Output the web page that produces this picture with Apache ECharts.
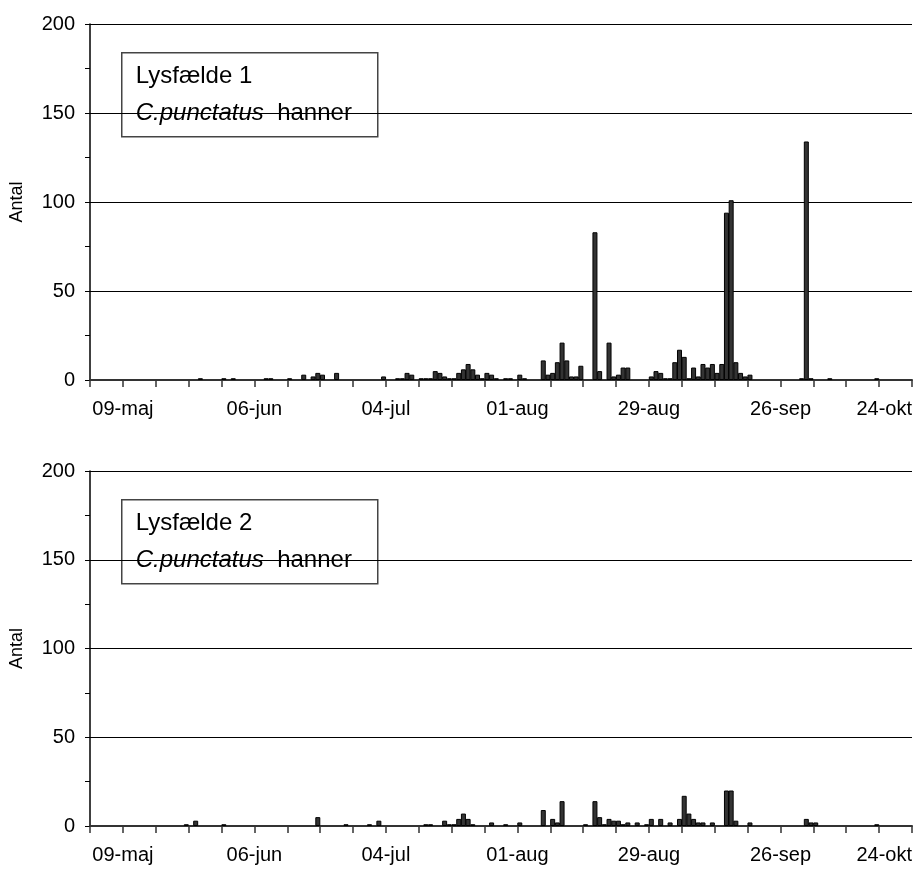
<!DOCTYPE html>
<html>
<head>
<meta charset="utf-8">
<script src="https://cdn.jsdelivr.net/npm/echarts@6/dist/echarts.min.js"></script>
<style>
  html, body { margin: 0; padding: 0; background: #fff; }
  #chart { width: 915px; height: 869px; }
</style>
</head>
<body>
<div id="chart"></div>
<script>
// day numbers count from 02-maj (day 0); one bar per day
var tickLabels = ['09-maj', '06-jun', '04-jul', '01-aug', '29-aug', '26-sep', '24-okt'];

// Lysfælde 1
var days1 = [23, 28, 30, 37, 38, 42, 45, 47, 48, 49, 52, 62, 65, 66, 67, 68, 70, 71, 72, 73,
  74, 75, 76, 77, 78, 79, 80, 81, 82, 83, 84, 85, 86, 88, 89, 91, 92, 96, 97, 98,
  99, 100, 101, 102, 103, 104, 107, 108, 110, 111, 112, 113, 114, 119, 120, 121, 122, 123, 124, 125,
  126, 127, 128, 129, 130, 131, 132, 133, 134, 135, 136, 137, 138, 139, 140, 151, 152, 153, 157, 167];
var vals1 = [1, 1, 1, 1, 1, 1, 3, 2, 4, 3, 4, 2, 1, 1, 4, 3, 1, 1, 1, 5,
  4, 2, 1, 1, 4, 6, 9, 6, 3, 1, 4, 3, 1, 1, 1, 3, 1, 11, 3, 4,
  10, 21, 11, 2, 2, 8, 83, 5, 21, 2, 3, 7, 7, 2, 5, 4, 1, 1, 10, 17,
  13, 1, 7, 2, 9, 7, 9, 4, 9, 94, 101, 10, 4, 2, 3, 1, 134, 1, 1, 1];

// Lysfælde 2
var days2 = [20, 22, 28, 48, 54, 59, 61, 71, 72, 75, 76, 77, 78, 79, 80, 81, 85, 88, 91, 96,
  98, 99, 100, 105, 107, 108, 109, 110, 111, 112, 113, 114, 116, 118, 119, 121, 123, 125, 126, 127,
  128, 129, 130, 132, 135, 136, 137, 140, 152, 153, 154, 167];
var vals2 = [1, 3, 1, 5, 1, 1, 3, 1, 1, 3, 1, 1, 4, 7, 4, 1, 2, 1, 2, 9,
  4, 2, 14, 1, 14, 5, 1, 4, 3, 3, 1, 2, 2, 1, 4, 4, 2, 4, 17, 7,
  4, 2, 2, 2, 20, 20, 3, 2, 4, 2, 2, 1];

var FONT = "'Liberation Sans', Arial, sans-serif";

function pairs(days, vals) {
  // bar sits in the middle of its day slot
  return days.map(function (d, i) { return [d + 0.5, vals[i]]; });
}

function xAxis(idx) {
  return {
    gridIndex: idx,
    type: 'value',
    min: 0,
    max: 175,
    interval: 7,
    axisLine: { show: true, lineStyle: { color: '#333', width: 2 } },
    axisTick: { show: true, length: 7, lineStyle: { color: '#333', width: 1.5 } },
    splitLine: { show: false },
    axisLabel: {
      color: '#000',
      fontSize: 20,
      fontFamily: FONT,
      margin: 19,
      showMaxLabel: true,
      alignMaxLabel: 'right',
      formatter: function (v) {
        if ((v - 7) % 28 === 0 && v >= 7) return tickLabels[(v - 7) / 28];
        return '';
      }
    }
  };
}

function yAxis(idx) {
  return {
    gridIndex: idx,
    type: 'value',
    min: 0,
    max: 200,
    interval: 50,
    name: 'Antal',
    nameLocation: 'middle',
    nameGap: 64,
    nameTextStyle: { color: '#000', fontSize: 18, fontFamily: FONT },
    axisLine: { show: true, lineStyle: { color: '#000', width: 1.5 } },
    axisTick: { show: true, length: 5, lineStyle: { color: '#000' } },
    minorTick: { show: true, splitNumber: 2, length: 5, lineStyle: { color: '#000' } },
    splitLine: { show: true, lineStyle: { color: '#000', width: 1 } },
    axisLabel: { color: '#000', fontSize: 20, fontFamily: FONT, margin: 15 }
  };
}

function series(idx, data) {
  return {
    type: 'bar',
    xAxisIndex: idx,
    yAxisIndex: idx,
    data: data,
    barWidth: 5,
    itemStyle: { color: '#333', borderColor: '#000', borderWidth: 1 },
    animation: false
  };
}

function box(top, title) {
  return {
    type: 'group',
    left: 121,
    top: top,
    z: 100,
    children: [
      {
        type: 'rect',
        shape: { x: 0, y: 0, width: 256, height: 84 },
        style: { fill: '#fff', stroke: '#444', lineWidth: 1.5 }
      },
      {
        type: 'text',
        x: 14,
        y: 5,
        style: {
          text: title + '\n{i|C.punctatus}  hanner',
          fill: '#000',
          fontSize: 24,
          fontFamily: FONT,
          lineHeight: 37,
          rich: {
            i: { fontStyle: 'italic', fontSize: 24, fontFamily: FONT, lineHeight: 37, fill: '#000' }
          }
        }
      }
    ]
  };
}

var chart = echarts.init(document.getElementById('chart'));
chart.setOption({
  backgroundColor: '#fff',
  animation: false,
  grid: [
    { left: 90, right: 3, top: 24, height: 356 },
    { left: 90, right: 3, top: 471, height: 355 }
  ],
  xAxis: [xAxis(0), xAxis(1)],
  yAxis: [yAxis(0), yAxis(1)],
  series: [series(0, pairs(days1, vals1)), series(1, pairs(days2, vals2))],
  graphic: [box(52, 'Lysfælde 1'), box(499, 'Lysfælde 2')]
});
</script>
</body>
</html>
